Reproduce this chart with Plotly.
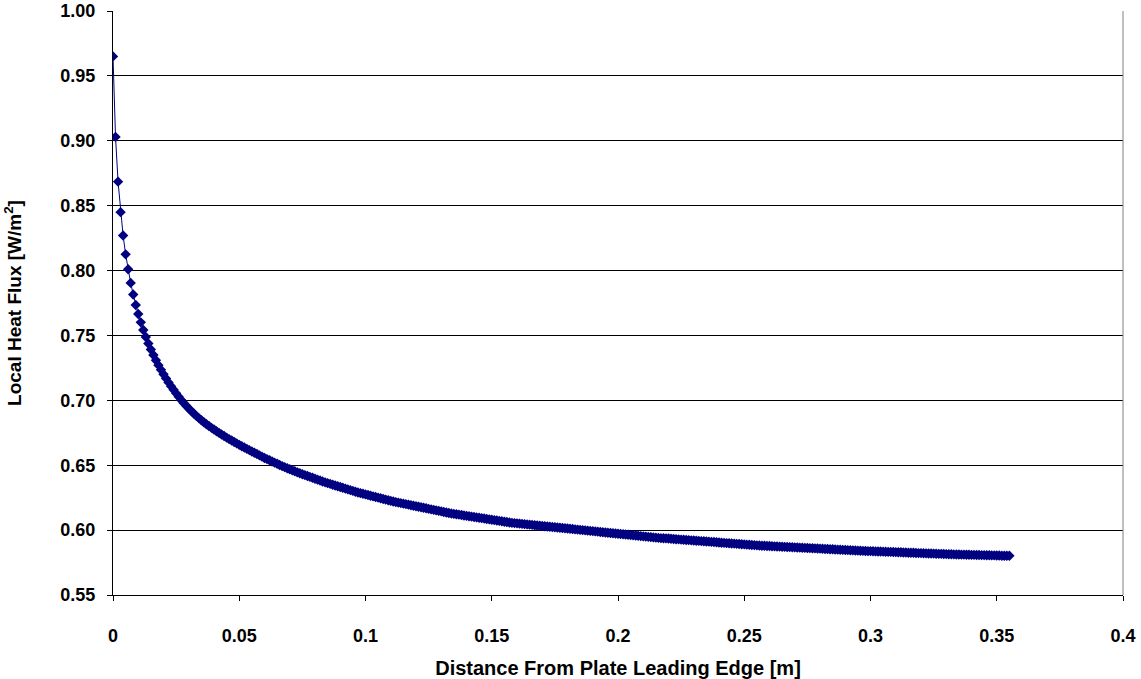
import plotly.graph_objects as go

# Local heat flux along the plate, one value per 1 mm station from the leading edge
heat_flux = [
    0.9650, 0.9030, 0.8685, 0.8450, 0.8270, 0.8125, 0.8010, 0.7905, 0.7815, 0.7735,
    0.7665, 0.7601, 0.7542, 0.7488, 0.7438, 0.7392, 0.7349, 0.7309, 0.7271, 0.7235,
    0.7201, 0.7169, 0.7138, 0.7109, 0.7081, 0.7054, 0.7028, 0.7003, 0.6980, 0.6958,
    0.6937, 0.6917, 0.6898, 0.6880, 0.6863, 0.6847, 0.6831, 0.6816, 0.6802, 0.6788,
    0.6775, 0.6762, 0.6749, 0.6737, 0.6725, 0.6713, 0.6701, 0.6690, 0.6679, 0.6668,
    0.6657, 0.6646, 0.6636, 0.6626, 0.6616, 0.6606, 0.6596, 0.6586, 0.6576, 0.6566,
    0.6556, 0.6547, 0.6538, 0.6529, 0.6520, 0.6511, 0.6502, 0.6493, 0.6485, 0.6477,
    0.6469, 0.6461, 0.6453, 0.6445, 0.6438, 0.6431, 0.6424, 0.6417, 0.6410, 0.6403,
    0.6396, 0.6389, 0.6382, 0.6375, 0.6368, 0.6362, 0.6356, 0.6350, 0.6344, 0.6338,
    0.6332, 0.6326, 0.6320, 0.6314, 0.6308, 0.6302, 0.6296, 0.6290, 0.6285, 0.6280,
    0.6275, 0.6270, 0.6265, 0.6260, 0.6255, 0.6250, 0.6245, 0.6240, 0.6235, 0.6230,
    0.6225, 0.6220, 0.6216, 0.6212, 0.6208, 0.6204, 0.6200, 0.6196, 0.6192, 0.6188,
    0.6184, 0.6180, 0.6176, 0.6172, 0.6168, 0.6164, 0.6160, 0.6156, 0.6152, 0.6148,
    0.6144, 0.6140, 0.6136, 0.6132, 0.6128, 0.6125, 0.6122, 0.6119, 0.6116, 0.6113,
    0.6110, 0.6107, 0.6104, 0.6101, 0.6098, 0.6095, 0.6092, 0.6089, 0.6086, 0.6083,
    0.6080, 0.6077, 0.6074, 0.6071, 0.6068, 0.6065, 0.6062, 0.6059, 0.6056, 0.6054,
    0.6052, 0.6050, 0.6048, 0.6046, 0.6044, 0.6042, 0.6040, 0.6038, 0.6036, 0.6034,
    0.6032, 0.6030, 0.6028, 0.6026, 0.6024, 0.6022, 0.6020, 0.6018, 0.6016, 0.6014,
    0.6012, 0.6010, 0.6008, 0.6006, 0.6004, 0.6002, 0.6000, 0.5998, 0.5996, 0.5994,
    0.5992, 0.5990, 0.5988, 0.5986, 0.5984, 0.5982, 0.5980, 0.5978, 0.5976, 0.5974,
    0.5972, 0.5970, 0.5968, 0.5966, 0.5964, 0.5962, 0.5960, 0.5958, 0.5956, 0.5954,
    0.5952, 0.5950, 0.5948, 0.5946, 0.5944, 0.5942, 0.5940, 0.5938, 0.5937, 0.5936,
    0.5935, 0.5933, 0.5932, 0.5930, 0.5929, 0.5927, 0.5926, 0.5924, 0.5923, 0.5921,
    0.5920, 0.5918, 0.5917, 0.5915, 0.5914, 0.5912, 0.5911, 0.5909, 0.5908, 0.5906,
    0.5905, 0.5903, 0.5902, 0.5900, 0.5899, 0.5897, 0.5896, 0.5894, 0.5893, 0.5891,
    0.5890, 0.5888, 0.5887, 0.5885, 0.5884, 0.5882, 0.5881, 0.5880, 0.5879, 0.5878,
    0.5877, 0.5876, 0.5875, 0.5874, 0.5873, 0.5872, 0.5871, 0.5870, 0.5869, 0.5868,
    0.5867, 0.5866, 0.5865, 0.5864, 0.5863, 0.5862, 0.5861, 0.5860, 0.5859, 0.5858,
    0.5857, 0.5856, 0.5855, 0.5854, 0.5853, 0.5852, 0.5851, 0.5850, 0.5849, 0.5848,
    0.5847, 0.5846, 0.5845, 0.5844, 0.5843, 0.5842, 0.5841, 0.5840, 0.5839, 0.5838,
    0.5838, 0.5837, 0.5836, 0.5835, 0.5835, 0.5834, 0.5833, 0.5832, 0.5832, 0.5831,
    0.5830, 0.5829, 0.5829, 0.5828, 0.5827, 0.5826, 0.5826, 0.5825, 0.5824, 0.5823,
    0.5823, 0.5822, 0.5821, 0.5820, 0.5820, 0.5819, 0.5818, 0.5817, 0.5817, 0.5816,
    0.5815, 0.5814, 0.5814, 0.5813, 0.5812, 0.5812, 0.5811, 0.5811, 0.5810, 0.5810,
    0.5809, 0.5809, 0.5808, 0.5808, 0.5807, 0.5807, 0.5806, 0.5806, 0.5805, 0.5805,
    0.5804, 0.5804, 0.5803, 0.5803, 0.5802, 0.5802,
]

# Stations are evenly spaced along the plate
station_step_m = 0.001
distance = [round(i * station_step_m, 3) for i in range(len(heat_flux))]

x_ticks = [0, 0.05, 0.1, 0.15, 0.2, 0.25, 0.3, 0.35, 0.4]
x_tick_text = ["0", "0.05", "0.1", "0.15", "0.2", "0.25", "0.3", "0.35", "0.4"]
y_ticks = [0.55, 0.60, 0.65, 0.70, 0.75, 0.80, 0.85, 0.90, 0.95, 1.00]

NAVY = "#000080"
FONT = "Liberation Sans, Arial, sans-serif"

fig = go.Figure()
fig.add_trace(go.Scatter(
    x=distance,
    y=heat_flux,
    mode="lines+markers",
    line=dict(color=NAVY, width=1),
    marker=dict(symbol="diamond", size=8, color=NAVY),
    showlegend=False,
))

fig.update_layout(
    width=1141,
    height=679,
    margin=dict(l=113, r=18, t=11, b=84, autoexpand=False),
    paper_bgcolor="white",
    plot_bgcolor="white",
    font=dict(family=FONT, color="black", size=18, weight="bold"),
    xaxis=dict(
        range=[0, 0.4],
        tickvals=x_ticks,
        ticktext=x_tick_text,
        automargin=False,
        showgrid=False,
        zeroline=False,
        showline=True,
        linecolor="black",
        linewidth=1,
        ticks="outside",
        ticklen=5,
        tickcolor="black",
        ticklabelstandoff=19,
        tickfont=dict(family=FONT, size=18, weight="bold"),
        title=dict(
            text="Distance From Plate Leading Edge [m]",
            font=dict(family=FONT, size=20, weight="bold"),
            standoff=19,
        ),
    ),
    yaxis=dict(
        range=[0.55, 1.0],
        tickvals=y_ticks,
        tickformat=".2f",
        automargin=False,
        showgrid=True,
        gridcolor="black",
        gridwidth=1,
        zeroline=False,
        showline=True,
        linecolor="black",
        linewidth=1,
        ticks="outside",
        ticklen=5,
        tickcolor="black",
        ticklabelstandoff=8,
        tickfont=dict(family=FONT, size=18, weight="bold"),
        title=dict(
            text="Local Heat Flux [W/m<sup>2</sup>]",
            font=dict(family=FONT, size=19, weight="bold"),
            standoff=33,
        ),
    ),
    shapes=[
        dict(type="line", xref="paper", yref="paper", x0=1, x1=1, y0=0, y1=1,
             line=dict(color="#808080", width=1)),
    ],
)

fig.write_html("out.html")
